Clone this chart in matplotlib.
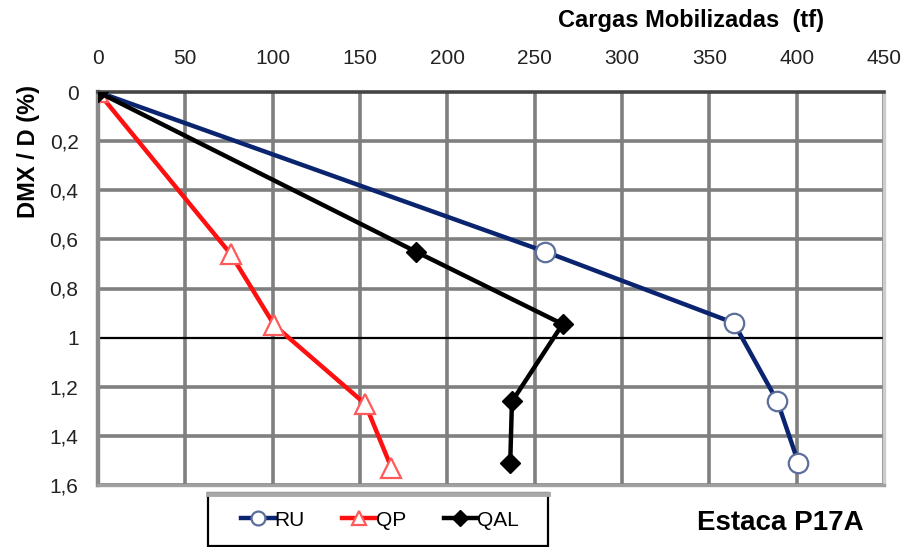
import matplotlib.pyplot as plt
from matplotlib.patches import Rectangle
from matplotlib.lines import Line2D
from matplotlib.ticker import FuncFormatter

# cargas mobilizadas (tf) x deslocamento relativo DMX/D (%)
ru_carga = [0, 256, 364, 389, 401]
ru_dmx = [0, 0.65, 0.94, 1.26, 1.51]
qp_carga = [0, 76, 101, 153, 168]
qp_dmx = [0, 0.66, 0.95, 1.27, 1.53]
qal_carga = [0, 182, 266, 237, 236]
qal_dmx = [0, 0.65, 0.945, 1.26, 1.51]

xticks = [0, 50, 100, 150, 200, 250, 300, 350, 400, 450]
yticks = [0, 0.2, 0.4, 0.6, 0.8, 1.0, 1.2, 1.4, 1.6]

plt.rcParams['font.family'] = ['Liberation Sans', 'DejaVu Sans']

W, H = 902, 547
fig = plt.figure(figsize=(W / 100, H / 100), dpi=100)
ax = fig.add_axes([98 / W, 1 - 485 / H, (884 - 98) / W, (485 - 92) / H])

ax.set_xlim(0, 450)
ax.set_ylim(1.6, 0)
ax.xaxis.tick_top()
ax.set_xticks(xticks)
ax.set_yticks(yticks)
ax.yaxis.set_major_formatter(FuncFormatter(lambda v, p: ('%g' % v).replace('.', ',')))
ax.tick_params(axis='both', length=0, labelsize=15, colors='#222222')
ax.tick_params(axis='x', pad=17)
ax.tick_params(axis='y', pad=14)

for x in xticks[1:]:
    ax.axvline(x, color='#7f7f7f', lw=2.6, zorder=1)
for y in yticks[1:]:
    if y == 1.0:
        ax.axhline(y, color='black', lw=1.6, zorder=1)
    else:
        ax.axhline(y, color='#7f7f7f', lw=2.6, zorder=1)

ax.spines['top'].set_color('#444444')
ax.spines['top'].set_linewidth(2.6)
ax.spines['left'].set_color('#8a8a8a')
ax.spines['left'].set_linewidth(3.2)
ax.spines['right'].set_color('#cccccc')
ax.spines['right'].set_linewidth(2.4)
ax.spines['bottom'].set_color('#a0a0a0')
ax.spines['bottom'].set_linewidth(2.4)

ru_style = dict(color='#0b2470', lw=3.2, marker='o', mfc='white', mec='#5b6e9c', mew=1.6)
qp_style = dict(color='#ff1010', lw=3.2, marker='^', mfc='white', mec='#ff5a5a', mew=1.6)
qal_style = dict(color='black', lw=3.2, marker='D', mfc='black', mec='black', mew=1)

ax.plot(ru_carga, ru_dmx, ms=14, zorder=3, **ru_style)
ax.plot(qp_carga, qp_dmx, ms=14, zorder=3, **qp_style)
ax.plot(qal_carga, qal_dmx, ms=10, zorder=4, **qal_style)

fig.text(691 / W, 1 - 20 / H, 'Cargas Mobilizadas  (tf)', fontsize=17,
         fontweight='bold', ha='center', va='center')
fig.text(29 / W, 1 - 152 / H, 'DMX / D (%)', fontsize=17, fontweight='bold',
         rotation=90, ha='center', va='center')
fig.text(780 / W, 1 - 523 / H, 'Estaca P17A', fontsize=20, fontweight='bold',
         ha='center', va='center')

# caixa da legenda
fig.add_artist(Rectangle((208 / W, 1 - 546 / H), 340 / W, 53 / H,
                         transform=fig.transFigure, fill=False,
                         edgecolor='black', lw=1.6))
fig.add_artist(Line2D([208 / W, 548 / W], [1 - 494 / H, 1 - 494 / H],
                      transform=fig.transFigure, color='#a8a8a8', lw=3.5))

handles = [Line2D([], [], ms=10, **ru_style),
           Line2D([], [], ms=10, **qp_style),
           Line2D([], [], ms=8, **qal_style)]
fig.legend(handles, ['RU', 'QP', 'QAL'], loc='center',
           bbox_to_anchor=(380 / W, 1 - 520 / H), ncol=3, frameon=False,
           fontsize=15, handlelength=1.6, handletextpad=0.0, columnspacing=1.8)

fig.savefig('out.png', dpi=100)
